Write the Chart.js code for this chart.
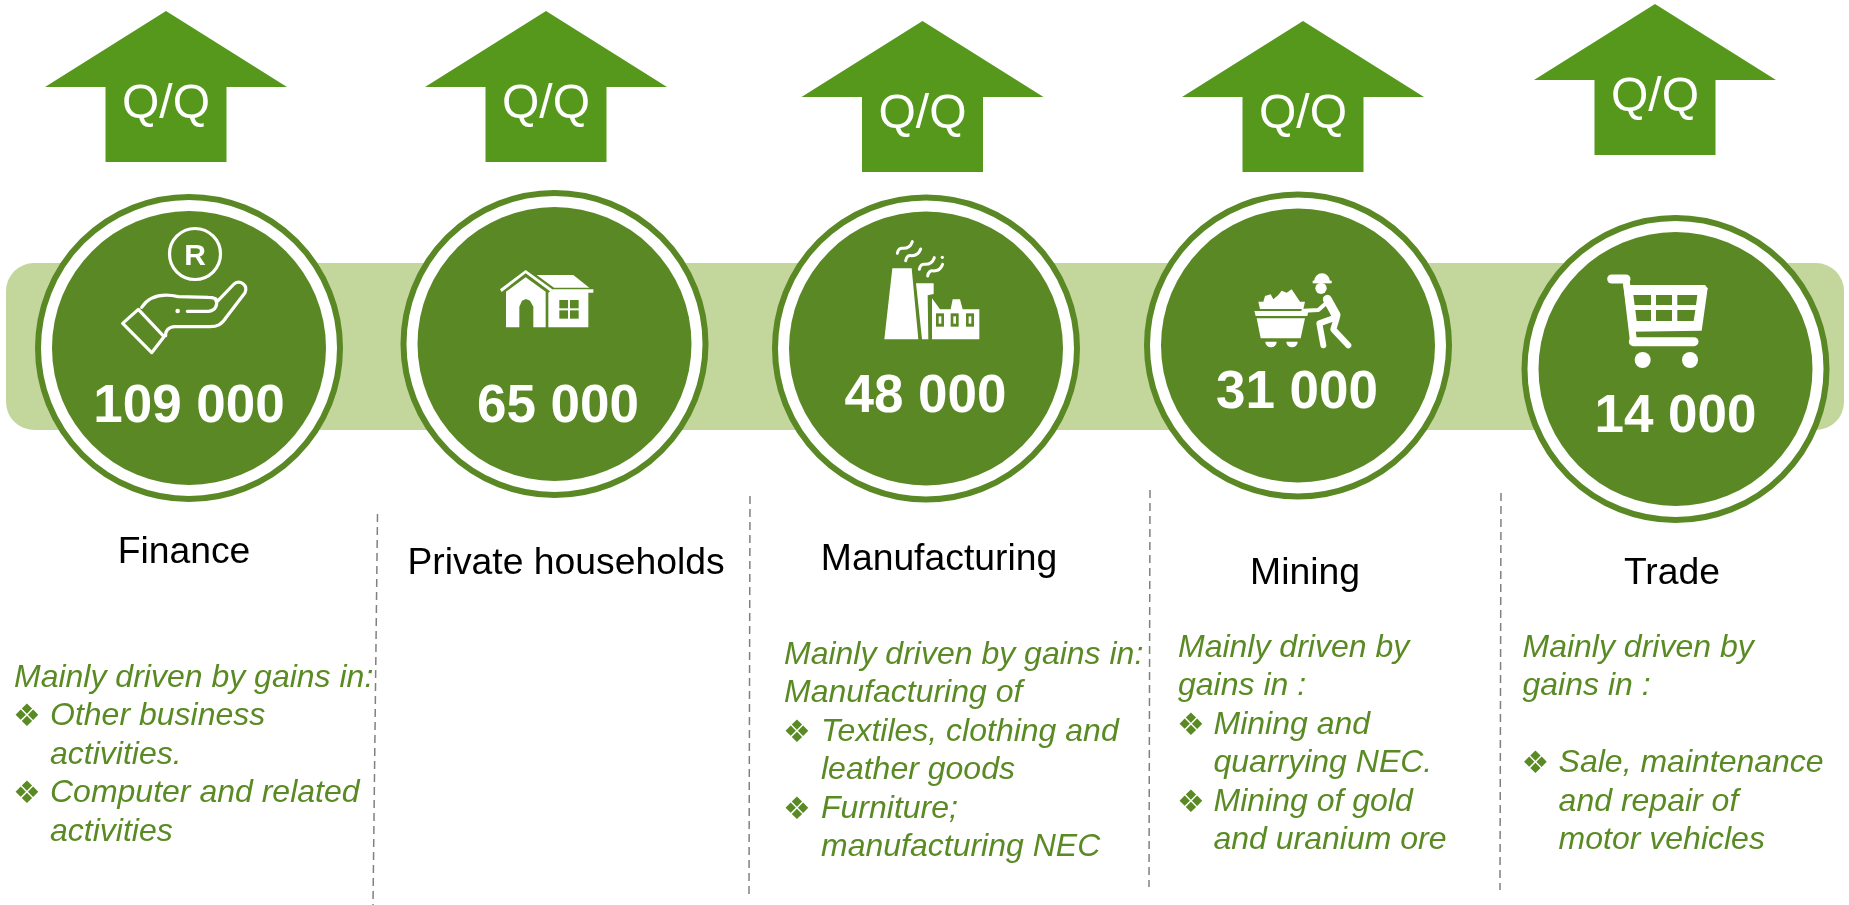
<!DOCTYPE html>
<html><head><meta charset="utf-8">
<script src="https://cdn.jsdelivr.net/npm/chart.js@4/dist/chart.umd.min.js"></script>
<style>html,body{margin:0;padding:0;background:#fff}canvas{display:block}</style>
</head><body><canvas id="c" width="1849" height="905"></canvas>
<script>
// ---- data ----
const categories = ["Finance","Private households","Manufacturing","Mining","Trade"];
const jobGains = [109000,65000,48000,31000,14000];
const changeLabels = ["Q/Q","Q/Q","Q/Q","Q/Q","Q/Q"];
const driversFinance = [["Mainly driven by gains in:",0],["Other business",1],["activities.",2],["Computer and related",1],["activities",2]];
const driversHouseholds = [];
const driversManufacturing = [["Mainly driven by gains in:",0],["Manufacturing of",0],["Textiles, clothing and",1],["leather goods",2],["Furniture;",1],["manufacturing NEC",2]];
const driversMining = [["Mainly driven by",0],["gains in :",0],["Mining and",1],["quarrying NEC.",2],["Mining of gold",1],["and uranium ore",2]];
const driversTrade = [["Mainly driven by",0],["gains in :",0],["",0],["Sale, maintenance",1],["and repair of",2],["motor vehicles",2]];
const drivers = [driversFinance,driversHouseholds,driversManufacturing,driversMining,driversTrade];

// ---- layout (page units) ----
const circleX=[189,554.5,926,1298,1675.5], circleY=[348,344,348.5,345.5,369];
const arrowX=[166,546,922.5,1303,1655], arrowTop=[11,11,21,21,4];
const valueX=[189,558,925.5,1297,1675.5], valueY=[407,407,397,393,417];
const catX=[184,566,939,1305,1672], catY=[563,574,570,584,584];
const textX=[14,0,784,1178,1522.5], indentX=[50,0,821,1213.5,1558.6], firstBase=[687,0,664,657,657];
const lineGap=38.4;
const seps=[[377.5,514,373,905],[750,496,749,896],[1150,490,1149,887],[1501,493,1500,890]];
const C={arrow:'#55981C',dark:'#5A8824',band:'#C3D69B',text:'#5A8A23'};

function fmt(v){return String(v).replace(/\B(?=(\d{3})+$)/g,' ');}
function poly(ctx,pts,ox,oy){ctx.beginPath();pts.forEach((p,i)=>{const x=ox+p[0]/3,y=oy+p[1]/3;i?ctx.lineTo(x,y):ctx.moveTo(x,y)});ctx.closePath();ctx.fill();}
function stroke(ctx,pts,ox,oy,w){ctx.lineWidth=w;ctx.lineCap='round';ctx.lineJoin='round';ctx.beginPath();pts.forEach((p,i)=>{const x=ox+p[0]/3,y=oy+p[1]/3;i?ctx.lineTo(x,y):ctx.moveTo(x,y)});ctx.stroke();}
function rect(ctx,x,y,w,h,ox,oy){ctx.fillRect(ox+x/3,oy+y/3,w/3,h/3);}

const icons=[
 function hand(ctx){const o=100,p=220;ctx.strokeStyle='#fff';ctx.fillStyle='#fff';ctx.lineWidth=3.2;ctx.lineCap='round';ctx.lineJoin='round';
  ctx.beginPath();ctx.arc(195,254,25.5,0,7);ctx.stroke();
  ctx.font='bold 30px "Liberation Sans"';ctx.textAlign='center';ctx.textBaseline='alphabetic';ctx.fillText('R',195,265);
  stroke(ctx,[[68,310],[115,268],[192,350],[155,398],[68,310]],o,p,3.2);
  const P=(x,y)=>[o+x/3,p+y/3];
  ctx.beginPath();ctx.moveTo(...P(125,262));ctx.bezierCurveTo(...P(150,225),...P(190,220),...P(235,230));ctx.lineTo(...P(325,232));ctx.bezierCurveTo(...P(340,232),...P(350,238),...P(352,244));
  ctx.lineTo(...P(402,192));ctx.bezierCurveTo(...P(420,178),...P(445,195),...P(435,218));ctx.lineTo(...P(380,290));ctx.bezierCurveTo(...P(365,315),...P(350,320),...P(330,320));
  ctx.lineTo(...P(225,320));ctx.bezierCurveTo(...P(205,320),...P(195,335),...P(197,347));ctx.stroke();
  ctx.beginPath();ctx.moveTo(...P(262,274));ctx.lineTo(...P(325,274));ctx.bezierCurveTo(...P(348,272),...P(355,252),...P(346,236));ctx.stroke();
  ctx.beginPath();ctx.arc(...P(233,273),2.3,0,7);ctx.fill();},
 function house(ctx){const o=480,p=250;ctx.fillStyle='#fff';ctx.strokeStyle='#fff';
  poly(ctx,[[60,118],[137,60],[217,118],[212,125],[137,70],[65,126]],o,p);
  poly(ctx,[[78,125],[137,82],[197,125],[197,232],[160,232],[160,170],[150,152],[138,147],[126,152],[118,170],[118,232],[78,232]],o,p);
  poly(ctx,[[170,75],[280,75],[328,113],[222,113]],o,p);
  poly(ctx,[[218,118],[340,118],[340,128],[325,128],[325,232],[205,232],[205,128]],o,p);
  ctx.fillStyle=C.dark;[[238,150],[270,150],[238,181],[270,181]].forEach(r=>rect(ctx,r[0],r[1],26,25,o,p));},
 function factory(ctx){const o=860,p=230;ctx.fillStyle='#fff';ctx.strokeStyle='#fff';
  poly(ctx,[[97,115],[155,115],[175,328],[73,328]],o,p);
  poly(ctx,[[168,160],[221,160],[221,192],[203,196],[205,328],[186,328]],o,p);
  poly(ctx,[[216,328],[216,205],[240,238],[272,238],[278,208],[300,208],[308,238],[358,238],[358,328]],o,p);
  [228,272,318].forEach(x=>{ctx.fillStyle=C.dark;rect(ctx,x,250,24,40,o,p);ctx.fillStyle='#fff';rect(ctx,x+8,259,8,22,o,p);});
  ctx.lineWidth=3;ctx.lineCap='round';
  [[112,70],[137,92],[178,118],[203,138]].forEach(s=>{const P=(x,y)=>[o+(s[0]+x)/3,p+(s[1]+y)/3];
   ctx.beginPath();ctx.moveTo(...P(0,0));ctx.quadraticCurveTo(...P(3,-18),...P(18,-15));ctx.quadraticCurveTo(...P(38,-15),...P(45,-35));ctx.stroke();});
  ctx.fillStyle='#fff';ctx.beginPath();ctx.arc(o+247/3,p+82/3,1.6,0,7);ctx.fill();},
 function miner(ctx){const o=1240,p=260;ctx.fillStyle='#fff';ctx.strokeStyle='#fff';
  poly(ctx,[[43,153],[205,153],[202,168],[47,168]],o,p);
  poly(ctx,[[50,175],[195,175],[182,235],[62,235]],o,p);
  poly(ctx,[[55,125],[70,125],[75,108],[92,103],[100,118],[115,105],[125,92],[140,98],[155,88],[170,110],[180,125],[195,125],[190,147],[60,147]],o,p);
  [[93,245,17],[156,245,17]].forEach(w=>{ctx.beginPath();ctx.arc(o+w[0]/3,p+w[1]/3,w[2]/3,0,Math.PI);ctx.closePath();ctx.fill();});
  ctx.beginPath();ctx.arc(o+246/3,p+64/3,24/3,Math.PI,0);ctx.closePath();ctx.fill();
  rect(ctx,218,62,57,8,o,p);
  ctx.beginPath();ctx.arc(o+243/3,p+85/3,17/3,0,7);ctx.fill();
  stroke(ctx,[[262,118],[288,165]],o,p,9);
  stroke(ctx,[[258,130],[235,150],[190,152]],o,p,4);
  stroke(ctx,[[288,172],[238,190],[250,256]],o,p,6);
  stroke(ctx,[[290,175],[280,208],[325,256]],o,p,6);},
 function cart(ctx){const o=1590,p=260;ctx.fillStyle='#fff';ctx.strokeStyle='#fff';
  stroke(ctx,[[65,57],[108,57]],o,p,9);
  stroke(ctx,[[108,57],[130,240]],o,p,7);
  poly(ctx,[[100,75],[345,75],[353,85],[335,212],[120,215]],o,p);
  stroke(ctx,[[130,245],[312,245]],o,p,9);
  ctx.fillStyle=C.dark;
  poly(ctx,[[130,105],[183,105],[183,135],[134,135]],o,p);rect(ctx,198,105,48,30,o,p);
  poly(ctx,[[262,105],[322,105],[318,135],[262,135]],o,p);
  poly(ctx,[[136,150],[183,150],[183,183],[140,183]],o,p);rect(ctx,198,150,48,33,o,p);
  poly(ctx,[[262,150],[316,150],[311,183],[262,183]],o,p);
  ctx.fillStyle='#fff';[158,300].forEach(x=>{ctx.beginPath();ctx.arc(o+x/3,p+300/3,24/3,0,7);ctx.fill();});}
];

const backdrop={id:'backdrop',beforeDatasetsDraw(chart){
  const ctx=chart.ctx,X=chart.scales.x,Y=chart.scales.y;ctx.save();
  ctx.fillStyle=C.band;ctx.beginPath();ctx.roundRect(X.getPixelForValue(6),Y.getPixelForValue(263),1838,167,28);ctx.fill();
  ctx.strokeStyle='#808080';ctx.lineWidth=1.5;ctx.setLineDash([8,5]);
  seps.forEach(s=>{ctx.beginPath();ctx.moveTo(X.getPixelForValue(s[0]),Y.getPixelForValue(s[1]));ctx.lineTo(X.getPixelForValue(s[2]),Y.getPixelForValue(s[3]));ctx.stroke();});
  ctx.setLineDash([]);
  ctx.fillStyle=C.arrow;
  arrowX.forEach((ax,i)=>{const x=X.getPixelForValue(ax),t=Y.getPixelForValue(arrowTop[i]);
    ctx.beginPath();ctx.moveTo(x,t);ctx.lineTo(x+121,t+76);ctx.lineTo(x+60.5,t+76);ctx.lineTo(x+60.5,t+151);ctx.lineTo(x-60.5,t+151);ctx.lineTo(x-60.5,t+76);ctx.lineTo(x-121,t+76);ctx.closePath();ctx.fill();
    ctx.fillStyle='#fff';ctx.font='48px "Liberation Sans"';ctx.textAlign='center';ctx.textBaseline='middle';ctx.fillText(changeLabels[i],x,t+94);ctx.fillStyle=C.arrow;});
  ctx.restore();
}};
const overlay={id:'overlay',afterDatasetsDraw(chart){
  const ctx=chart.ctx;ctx.save();
  icons.forEach(f=>{ctx.save();f(ctx);ctx.restore();});
  ctx.textAlign='center';ctx.textBaseline='middle';ctx.fillStyle='#fff';ctx.font='bold 53px "Liberation Sans"';
  jobGains.forEach((v,i)=>ctx.fillText(fmt(v),valueX[i],valueY[i]));
  ctx.fillStyle='#000';ctx.font='37.3px "Liberation Sans"';ctx.textBaseline='alphabetic';
  categories.forEach((c,i)=>ctx.fillText(c,catX[i],catY[i]));
  ctx.textAlign='left';
  drivers.forEach((lines,i)=>{lines.forEach((l,j)=>{
    const y=firstBase[i]+j*lineGap;ctx.fillStyle=C.text;
    ctx.font='italic 32px "Liberation Sans"';
    ctx.fillText(l[0],l[1]?indentX[i]:textX[i],y);
    if(l[1]===1){ctx.font='31px "DejaVu Sans"';ctx.fillText('\u2756',textX[i]-1,y+1);}
  });});
  ctx.restore();
}};

new Chart(document.getElementById('c'),{
  type:'scatter',
  data:{datasets:[
    {label:'disc',order:1,data:categories.map((c,i)=>({x:circleX[i],y:circleY[i]})),pointRadius:137,pointHoverRadius:137,pointBorderWidth:0,pointBackgroundColor:C.dark,clip:false},
    {label:'ring',order:2,data:categories.map((c,i)=>({x:circleX[i],y:circleY[i]})),pointRadius:151,pointHoverRadius:151,pointBorderWidth:6,pointBorderColor:C.dark,pointBackgroundColor:'#fff',clip:false}
  ]},
  options:{responsive:false,animation:false,events:[],layout:{padding:0,autoPadding:false},
    plugins:{legend:{display:false},tooltip:{enabled:false}},
    scales:{x:{type:'linear',display:false,min:0,max:1849},y:{type:'linear',display:false,min:0,max:905,reverse:true}}},
  plugins:[backdrop,overlay]
});
</script></body></html>
